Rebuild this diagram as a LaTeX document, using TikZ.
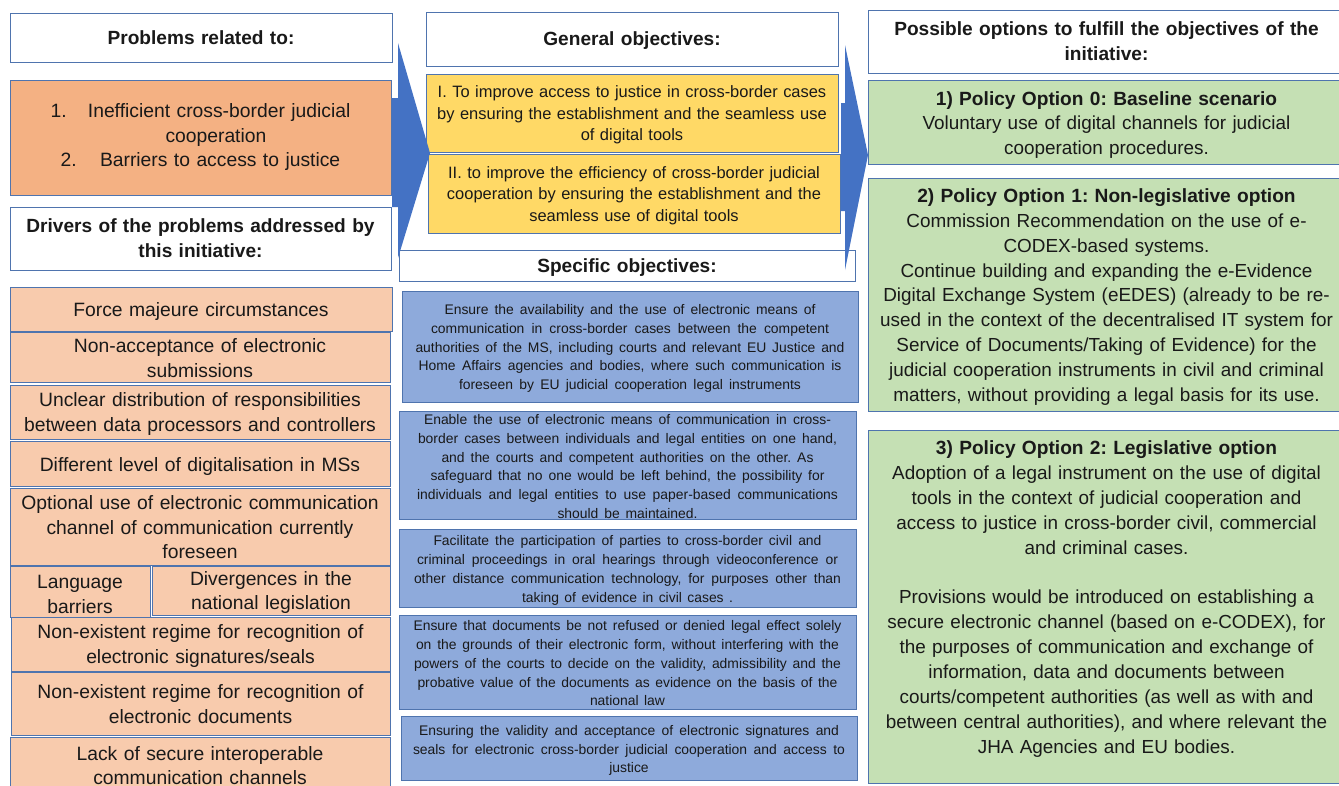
\documentclass[tikz,border=0pt]{standalone}
\usepackage{fontspec}
\setmainfont{Liberation Sans}
\AtBeginDocument{\frenchspacing}
\definecolor{edgeblue}{HTML}{4F74AE}
\definecolor{arrowblue}{HTML}{4472C4}
\definecolor{orangeA}{HTML}{F4B183}
\definecolor{orangeB}{HTML}{F8CBAD}
\definecolor{yellowA}{HTML}{FFD966}
\definecolor{blueA}{HTML}{8EAADB}
\definecolor{greenA}{HTML}{C5E0B4}
\newcommand\jz[2]{\leavevmode\hbox to #1pt{\spaceskip=\fontdimen2\font plus 1fil\relax #2}}
\newcommand\jl[2]{\jz{#1}{#2}\\}
\newcommand\optb[1]{{\fontsize{19.15}{24.85}\selectfont\bfseries #1}}
% [text shift down]{name}{style}{x0}{y0}{x1}{y1}{text}
\newcommand\mybox[8][0]{%
  \node[boxbase,#3,minimum width=#6pt-#4pt,minimum height=#7pt-#5pt] (#2) at ({(#4+#6)/2},{(#5+#7)/2}) {};
  \node[boxbase,#3,draw=none,fill=none,text width=#6pt-#4pt-8pt,yshift=-#1pt] (#2t) at (#2.center) {#8};}
\tikzset{
  boxbase/.style={draw=edgeblue,line width=1pt,inner sep=0pt,outer sep=0pt,align=center,text=black!90},
  headbox/.style={fill=white,font=\fontsize{19.1}{24.7}\selectfont\bfseries},
  probbox/.style={fill=orangeA,font=\fontsize{19.3}{24.5}\selectfont},
  drivbox/.style={fill=orangeB,font=\fontsize{19.3}{24.5}\selectfont},
  goalbox/.style={fill=yellowA,font=\fontsize{16.45}{21.3}\selectfont},
  specbox/.style={fill=blueA,font=\fontsize{13.9}{18.75}\selectfont},
  optbox/.style={fill=greenA,font=\fontsize{18.9}{24.85}\selectfont},
  flowarrow/.style={fill=arrowblue,draw=none},
}
\begin{document}
\begin{tikzpicture}[x=1pt,y=-1pt]
\useasboundingbox (0,0) rectangle (1339,785);
\begin{scope}
\clip (0,0) rectangle (1339,785);
% left column
\mybox{h1}{headbox}{10}{13}{392}{62}{Problems related to:}
\mybox{p1}{probbox}{10}{80}{391}{195}{1.\hspace{1.1em}Inefficient cross-border judicial\\\hspace{1.6em}cooperation\\2.\hspace{1.2em}Barriers to access to justice}
\mybox{h2}{headbox}{10}{207}{391}{270}{Drivers of the problems addressed by\\this initiative:}
\mybox[3]{d1}{drivbox}{10}{287}{392}{331}{Force majeure circumstances}
\mybox[1]{d2}{drivbox}{10}{332}{390}{382}{Non-acceptance of electronic\\submissions}
\mybox[2]{d3}{drivbox}{10}{385}{390}{439}{Unclear distribution of responsibilities\\between data processors and controllers}
\mybox[3]{d4}{drivbox}{10}{441}{390}{486}{Different level of digitalisation in MSs}
\mybox[1]{d5}{drivbox}{10}{488}{390}{565}{Optional use of electronic communication\\channel of communication currently\\foreseen}
\mybox[3]{d6}{drivbox}{10}{566}{150}{617}{Language\\barriers}
\mybox[2]{d7}{drivbox}{152}{566}{390}{615}{Divergences in the\\national legislation}
\mybox[2]{d8}{drivbox}{11}{617}{390}{671}{Non-existent regime for recognition of\\electronic signatures/seals}
\mybox[0.5]{d9}{drivbox}{11}{672}{390}{735}{Non-existent regime for recognition of\\electronic documents}
\mybox[-3]{d10}{drivbox}{10}{737}{390}{800}{Lack of secure interoperable\\communication channels\\[25pt]}
% middle column
\mybox[2]{h3}{headbox}{426}{12}{838}{66}{General objectives:}
\mybox[2]{g1}{goalbox}{426}{74}{838}{152}{I. To improve access to justice in cross-border cases\\by ensuring the establishment and the seamless use\\of digital tools}
\mybox[2]{g2}{goalbox}{428}{154}{840}{233}{II. to improve the efficiency of cross-border judicial\\cooperation by ensuring the establishment and the\\seamless use of digital tools}
\mybox[2]{h4}{headbox}{399}{250}{855}{281}{Specific objectives:}
\mybox[2]{s1}{specbox}{402}{291}{858}{402}{\jl{371}{Ensure the availability and the use of electronic means of}\jl{398}{communication in cross-border cases between the competent}\jl{429}{authorities of the MS, including courts and relevant EU Justice and}\jl{423}{Home Affairs agencies and bodies, where such communication is}\jz{342}{foreseen by EU judicial cooperation legal instruments}}
\mybox[1.5]{s2}{specbox}{399}{411}{856}{519}{\jl{407}{Enable the use of electronic means of communication in cross-}\jl{419}{border cases between individuals and legal entities on one hand,}\jl{372}{and the courts and competent authorities on the other. As}\jl{394}{safeguard that no one would be left behind, the possibility for}\jl{421}{individuals and legal entities to use paper-based communications}\jz{140}{should be maintained.}}
\mybox[2.5]{s3}{specbox}{399}{529}{856}{607}{\jl{388}{Facilitate the participation of parties to cross-border civil and}\jl{421}{criminal proceedings in oral hearings through videoconference or}\jl{427}{other distance communication technology, for purposes other than}\jz{211}{taking of evidence in civil cases .}}
\mybox[1.5]{s4}{specbox}{399}{615}{856}{709}{\jl{428}{Ensure that documents be not refused or denied legal effect solely}\jl{423}{on the grounds of their electronic form, without interfering with the}\jl{427}{powers of the courts to decide on the validity, admissibility and the}\jl{420}{probative value of the documents as evidence on the basis of the}\jz{75}{national law}}
\mybox[2.5]{s5}{specbox}{401}{716}{857}{780}{\jl{420}{Ensuring the validity and acceptance of electronic signatures and}\jl{432}{seals for electronic cross-border judicial cooperation and access to}justice}
% right column
\mybox{h5}{headbox}{868}{10}{1345}{73}{Possible options to fulfill the objectives of the\\initiative:}
\mybox[3]{o1}{optbox}{868}{80}{1345}{164}{\optb{1) Policy Option 0: Baseline scenario}\\Voluntary use of digital channels for judicial\\cooperation procedures.}
\mybox[2.5]{o2}{optbox}{868}{178}{1345}{411}{\optb{2) Policy Option 1: Non-legislative option}\\Commission Recommendation on the use of e-\\CODEX-based systems.\\Continue building and expanding the e-Evidence\\Digital Exchange System (eEDES) (already to be re-\\used in the context of the decentralised IT system for\\Service of Documents/Taking of Evidence) for the\\judicial cooperation instruments in civil and criminal\\matters, without providing a legal basis for its use.}
\mybox[-7.5]{o3}{optbox}{868}{430}{1345}{783}{\optb{3) Policy Option 2: Legislative option}\\Adoption of a legal instrument on the use of digital\\tools in the context of judicial cooperation and\\access to justice in cross-border civil, commercial\\and criminal cases.\\[24.85pt]Provisions would be introduced on establishing a\\secure electronic channel (based on e-CODEX), for\\the purposes of communication and exchange of\\information, data and documents between\\courts/competent authorities (as well as with and\\between central authorities), and where relevant the\\JHA Agencies and EU bodies.}
% block arrows
\fill[flowarrow] (392,98) -- (398,98) -- (398,43) -- (430,153) -- (398,258) -- (398,207) -- (392,207) -- cycle;
\fill[flowarrow] (841,103) -- (845,103) -- (845,45) -- (868,155) -- (845,270) -- (845,211) -- (841,211) -- cycle;
\end{scope}
\end{tikzpicture}
\end{document}
